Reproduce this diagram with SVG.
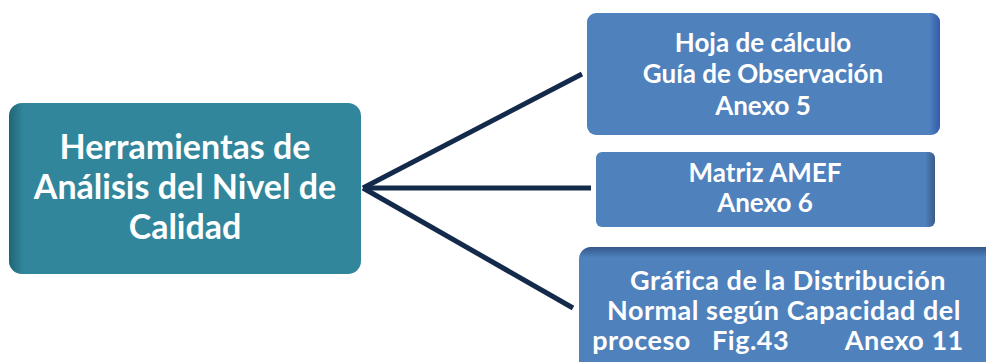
<svg xmlns="http://www.w3.org/2000/svg" width="986" height="362" viewBox="0 0 986 362">
  <defs>
    <style>
      .lbl { font-family: Lato, "Open Sans", "Liberation Sans", sans-serif; font-weight: bold; fill: #ffffff; text-anchor: middle; }
      .conn { stroke: #132a4a; stroke-width: 5; stroke-linecap: butt; fill: none; }
    </style>
    <!-- soft darker rim along one edge of a box -->
    <linearGradient id="rimLeft" x1="0" y1="0" x2="1" y2="0">
      <stop offset="0" stop-color="#0c3a48" stop-opacity="0.45"/>
      <stop offset="0.04" stop-color="#0c3a48" stop-opacity="0"/>
    </linearGradient>
    <linearGradient id="rimRight" x1="0" y1="0" x2="1" y2="0">
      <stop offset="0.97" stop-color="#1f3a9a" stop-opacity="0"/>
      <stop offset="1" stop-color="#1f3a9a" stop-opacity="0.55"/>
    </linearGradient>
    <linearGradient id="rimGrey" x1="0" y1="0" x2="1" y2="0">
      <stop offset="0.97" stop-color="#20304a" stop-opacity="0"/>
      <stop offset="1" stop-color="#20304a" stop-opacity="0.45"/>
    </linearGradient>
    <linearGradient id="rimTop" x1="0" y1="0" x2="0" y2="1">
      <stop offset="0" stop-color="#1a2e55" stop-opacity="0.5"/>
      <stop offset="0.08" stop-color="#1a2e55" stop-opacity="0"/>
    </linearGradient>
  </defs>

  <rect width="986" height="362" fill="#ffffff"/>

  <!-- connectors fanning out from the main box -->
  <g id="connectors">
    <line class="conn" x1="363" y1="188" x2="582" y2="74"/>
    <line class="conn" x1="363" y1="188" x2="591" y2="188"/>
    <line class="conn" x1="363" y1="188" x2="573" y2="308"/>
  </g>

  <!-- main node -->
  <g id="herramientas">
    <rect x="9" y="103" width="352" height="171" rx="13" fill="#31869c"/>
    <rect x="9" y="103" width="352" height="171" rx="13" fill="url(#rimLeft)"/>
    <text class="lbl" font-size="34" x="185" y="159">Herramientas de</text>
    <text class="lbl" font-size="34" x="185" y="199">Análisis del Nivel de</text>
    <text class="lbl" font-size="34" x="185" y="239">Calidad</text>
  </g>

  <!-- top right node -->
  <g id="hoja-calculo">
    <rect x="587" y="13" width="353" height="122" rx="9" fill="#4f81bd"/>
    <rect x="587" y="13" width="353" height="122" rx="9" fill="url(#rimRight)"/>
    <text class="lbl" font-size="26" x="763" y="52">Hoja de cálculo</text>
    <text class="lbl" font-size="26" x="763" y="83">Guía de Observación</text>
    <text class="lbl" font-size="26" x="763" y="115">Anexo 5</text>
  </g>

  <!-- middle right node -->
  <g id="matriz-amef">
    <rect x="596" y="152" width="339" height="75" rx="6" fill="#4f81bd"/>
    <rect x="596" y="152" width="339" height="75" rx="6" fill="url(#rimGrey)"/>
    <text class="lbl" font-size="26" x="765" y="182">Matriz AMEF</text>
    <text class="lbl" font-size="26" x="765" y="212">Anexo 6</text>
  </g>

  <!-- bottom right node -->
  <g id="grafica-distribucion">
    <rect x="579" y="247" width="420" height="130" rx="12" fill="#4f81bd"/>
    <rect x="579" y="247" width="420" height="130" rx="12" fill="url(#rimTop)"/>
    <text class="lbl" font-size="27" letter-spacing="0.5" x="788" y="290">Gráfica de la Distribución</text>
    <text class="lbl" font-size="27" letter-spacing="0.5" x="784" y="320">Normal según Capacidad del</text>
    <text class="lbl" font-size="27" letter-spacing="0.5" x="778" y="350" xml:space="preserve">proceso   Fig.43        Anexo 11</text>
  </g>
</svg>
